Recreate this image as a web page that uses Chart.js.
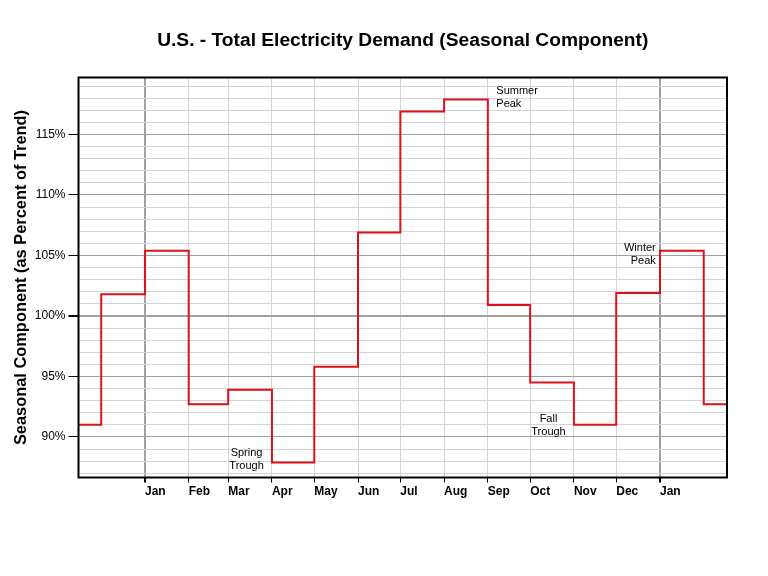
<!DOCTYPE html>
<html>
<head>
<meta charset="utf-8">
<script src="https://cdn.jsdelivr.net/npm/chart.js@4/dist/chart.umd.min.js"></script>
<style>
  html, body { margin: 0; padding: 0; background: #fff; }
</style>
</head>
<body>
<canvas id="myChart" width="768" height="576"></canvas>
<script>
// month start dates; the value of each month holds until the next start
const monthDates = ['2000-11-01', '2000-12-01',
    '2001-01-01', '2001-02-01', '2001-03-01', '2001-04-01', '2001-05-01', '2001-06-01',
    '2001-07-01', '2001-08-01', '2001-09-01', '2001-10-01', '2001-11-01', '2001-12-01',
    '2002-01-01', '2002-02-01', '2002-03-01'];
const seasonal = [91.0, 101.8,
    105.4, 92.7, 93.9, 87.9, 95.8, 106.9,
    116.9, 117.9, 100.9, 94.5, 91.0, 101.9,
    105.4, 92.7, 93.9];
const tickDates = ['2001-01-01', '2001-02-01', '2001-03-01', '2001-04-01', '2001-05-01', '2001-06-01',
    '2001-07-01', '2001-08-01', '2001-09-01', '2001-10-01', '2001-11-01', '2001-12-01', '2002-01-01'];
const tickLabels = ['Jan', 'Feb', 'Mar', 'Apr', 'May', 'Jun', 'Jul', 'Aug', 'Sep', 'Oct', 'Nov', 'Dec', 'Jan'];
const yMajor = [90, 95, 100, 105, 110, 115];
const notes = [
    {text: ['Summer', 'Peak'], date: '2001-09-07', value: 118.6, align: 'left'},
    {text: ['Winter', 'Peak'], date: '2001-12-29', value: 105.65, align: 'right'},
    {text: ['Fall', 'Trough'], date: '2001-10-14', value: 91.5, align: 'center'},
    {text: ['Spring', 'Trough'], date: '2001-03-14', value: 88.7, align: 'center'}
];
const titleText = 'U.S. - Total Electricity Demand (Seasonal Component)';

const origin = Date.parse('2001-01-01');
const dayOf = d => (Date.parse(d) - origin) / 86400000;
const tickDays = tickDates.map(dayOf);

const fontFamily = '"Liberation Sans", Arial, sans-serif';
Chart.defaults.color = '#000';
Chart.defaults.font.family = fontFamily;

const chartExtras = {
    id: 'chartExtras',
    afterDatasetsDraw(chart) {
        const {ctx, scales: {x, y}} = chart;
        ctx.save();
        ctx.font = '11px ' + fontFamily;
        ctx.fillStyle = '#000';
        ctx.textBaseline = 'middle';
        notes.forEach(n => {
            ctx.textAlign = n.align;
            const px = x.getPixelForValue(dayOf(n.date));
            const py = y.getPixelForValue(n.value);
            n.text.forEach((t, i) => ctx.fillText(t, px, py + i * 13.5));
        });
        ctx.restore();
    },
    afterDraw(chart) {
        const {ctx, chartArea: a} = chart;
        ctx.save();
        ctx.strokeStyle = '#000';
        ctx.lineWidth = 2;
        ctx.strokeRect(a.left, a.top, a.right - a.left, a.bottom - a.top);
        // title centred over the plot area
        ctx.font = 'bold 19.2px ' + fontFamily;
        ctx.fillStyle = '#000';
        ctx.textAlign = 'center';
        ctx.textBaseline = 'alphabetic';
        ctx.fillText(titleText, (a.left + a.right) / 2, 45.5);
        ctx.restore();
    }
};

const ctx = document.getElementById('myChart').getContext('2d');
new Chart(ctx, {
    type: 'line',
    data: {
        datasets: [{
            data: monthDates.map((d, i) => ({x: dayOf(d), y: seasonal[i]})),
            stepped: true,
            borderColor: '#e0101a',
            borderWidth: 2,
            pointRadius: 0,
            fill: false
        }]
    },
    options: {
        responsive: false,
        animation: false,
        devicePixelRatio: 1,
        layout: {padding: {left: 0, right: 41, top: 77.5, bottom: 0}},
        plugins: {
            legend: {display: false},
            tooltip: {enabled: false},
            title: {display: false}
        },
        scales: {
            x: {
                type: 'linear',
                min: -47.1,
                max: 412.5,
                afterBuildTicks: s => { s.ticks = tickDays.map(v => ({value: v})); },
                afterFit: s => { s.height = 98.5; },
                border: {display: false},
                grid: {
                    color: c => (c.tick && (c.tick.value === 0 || c.tick.value === 365)) ? '#a0a0a0' : '#d4d4d4',
                    lineWidth: c => (c.tick && (c.tick.value === 0 || c.tick.value === 365)) ? 2 : 1,
                    tickColor: '#000',
                    tickLength: 5
                },
                ticks: {
                    align: 'start',
                    padding: 2,
                    maxRotation: 0,
                    autoSkip: false,
                    font: {size: 12, weight: 'bold'},
                    callback: (v, i) => tickLabels[i]
                }
            },
            y: {
                z: -1,
                min: 86.65,
                max: 119.71,
                afterBuildTicks: s => {
                    const t = [];
                    for (let v = 87; v <= 119; v++) t.push({value: v});
                    s.ticks = t;
                },
                afterFit: s => { s.width = 78.5; },
                border: {display: false},
                grid: {
                    color: c => yMajor.includes(c.tick && c.tick.value) ? '#a0a0a0' : '#d4d4d4',
                    lineWidth: c => (c.tick && c.tick.value === 100) ? 2 : 1,
                    tickColor: c => yMajor.includes(c.tick && c.tick.value) ? '#000' : 'rgba(0,0,0,0)',
                    tickLength: 10
                },
                ticks: {
                    padding: 3,
                    autoSkip: false,
                    font: {size: 12},
                    callback: v => yMajor.includes(v) ? v + '%' : ''
                },
                title: {
                    display: true,
                    text: 'Seasonal Component (as Percent of Trend)',
                    font: {size: 16.4, weight: 'bold'},
                    padding: {top: 12, bottom: 0}
                }
            }
        }
    },
    plugins: [chartExtras]
});
</script>
</body>
</html>
